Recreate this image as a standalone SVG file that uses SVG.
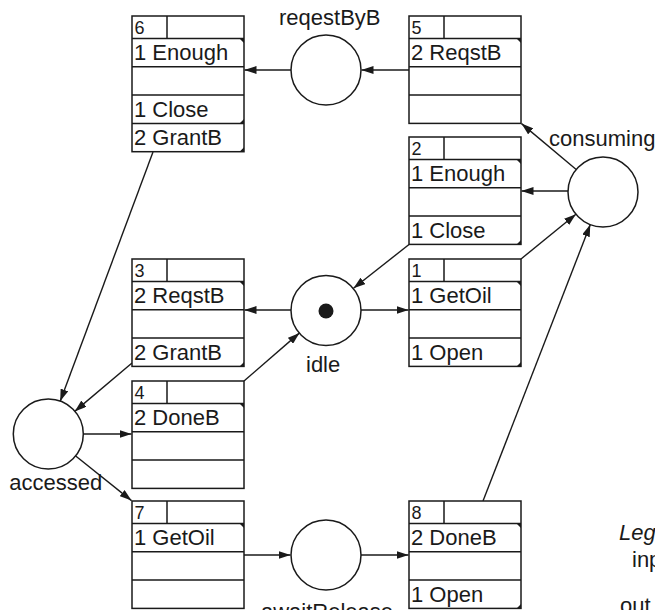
<svg xmlns="http://www.w3.org/2000/svg" width="655" height="610" viewBox="0 0 655 610">
<defs>
<style>
.bx{fill:#fff;stroke:#1a1a1a;stroke-width:1.5}
.ln{fill:none;stroke:#1a1a1a;stroke-width:1.5}
.pl{fill:#fff;stroke:#1a1a1a;stroke-width:1.5}
.c{stroke:#1a1a1a;stroke-width:1.4;fill:none}
.t{font-family:"Liberation Sans",Arial,sans-serif;font-size:22px;fill:#1a1a1a}
.h{font-family:"Liberation Sans",Arial,sans-serif;font-size:18px;fill:#1a1a1a}
.i{font-style:italic}
.tri{fill:#1a1a1a}
</style>
<marker id="ah" markerWidth="12" markerHeight="8" refX="12" refY="4" orient="auto" markerUnits="userSpaceOnUse">
<path d="M0,0 L12,4 L0,8 Z" fill="#1a1a1a"/>
</marker>
</defs>
<rect width="655" height="610" fill="#fff"/>

<g id="connectors">
<line class="c" x1="291" y1="70" x2="244.5" y2="70" marker-end="url(#ah)"/>
<line class="c" x1="409" y1="70" x2="361.5" y2="70" marker-end="url(#ah)"/>
<line class="c" x1="576.2" y1="169.5" x2="521.5" y2="123.6" marker-end="url(#ah)"/>
<line class="c" x1="568" y1="191" x2="521.5" y2="191" marker-end="url(#ah)"/>
<line class="c" x1="521" y1="259" x2="575.9" y2="214.2" marker-end="url(#ah)"/>
<line class="c" x1="483" y1="501" x2="590.3" y2="224.6" marker-end="url(#ah)"/>
<line class="c" x1="409" y1="244.5" x2="353.5" y2="288.3" marker-end="url(#ah)"/>
<line class="c" x1="361" y1="310" x2="408.5" y2="310" marker-end="url(#ah)"/>
<line class="c" x1="291" y1="310" x2="244.5" y2="310" marker-end="url(#ah)"/>
<line class="c" x1="244" y1="381" x2="299.5" y2="332.9" marker-end="url(#ah)"/>
<line class="c" x1="153" y1="152" x2="60.2" y2="401.2" marker-end="url(#ah)"/>
<line class="c" x1="132" y1="363" x2="74.7" y2="411.4" marker-end="url(#ah)"/>
<line class="c" x1="83" y1="434" x2="131.5" y2="434" marker-end="url(#ah)"/>
<line class="c" x1="75.4" y1="455.8" x2="131.5" y2="500.6" marker-end="url(#ah)"/>
<line class="c" x1="244" y1="555" x2="290.5" y2="555" marker-end="url(#ah)"/>
<line class="c" x1="361" y1="555" x2="408.5" y2="555" marker-end="url(#ah)"/>
</g>

<g id="place-reqestByB">
<circle class="pl" cx="326" cy="70" r="35"/>
<text class="t" x="279" y="25">reqestByB</text>
</g>
<g id="place-consuming">
<circle class="pl" cx="603" cy="192" r="35"/>
<text class="t" x="549" y="146">consuming</text>
</g>
<g id="place-idle">
<circle class="pl" cx="326" cy="310.5" r="35"/>
<circle cx="326" cy="311" r="7.5" fill="#1a1a1a"/>
<text class="t" x="306" y="372">idle</text>
</g>
<g id="place-accessed">
<circle class="pl" cx="48.3" cy="434" r="35"/>
<text class="t" x="9.3" y="490">accessed</text>
</g>
<g id="place-awaitRelease">
<circle class="pl" cx="326" cy="555" r="35"/>
<text class="t" x="261" y="619">awaitRelease</text>
</g>

<g id="box6">
<rect class="bx" x="132" y="16" width="112" height="135.7"/>
<path class="ln" d="M132,38.5H244M167,16V38.5M132,66.8H244M132,95.1H244M132,123.4H244"/>
<path class="tri" d="M239.5,38.5H244V43Z M244,118.9V123.4H239.5Z M244,147.2V151.7H239.5Z"/>
<text class="h" x="134.5" y="33.5">6</text>
<text class="t" x="134" y="60">1 Enough</text>
<text class="t" x="134" y="116.6">1 Close</text>
<text class="t" x="134" y="144.9">2 GrantB</text>
</g>

<g id="box5">
<rect class="bx" x="409" y="16" width="112" height="107.4"/>
<path class="ln" d="M409,38.5H521M444,16V38.5M409,66.8H521M409,95.1H521"/>
<path class="tri" d="M516.5,38.5H521V43Z"/>
<text class="h" x="411.5" y="33.5">5</text>
<text class="t" x="411" y="60">2 ReqstB</text>
</g>

<g id="box2">
<rect class="bx" x="409" y="137" width="112" height="107.4"/>
<path class="ln" d="M409,159.5H521M444,137V159.5M409,187.8H521M409,216.1H521"/>
<path class="tri" d="M516.5,159.5H521V164Z M521,239.9V244.4H516.5Z"/>
<text class="h" x="411.5" y="154.5">2</text>
<text class="t" x="411" y="181">1 Enough</text>
<text class="t" x="411" y="237.6">1 Close</text>
</g>

<g id="box1">
<rect class="bx" x="409" y="259" width="112" height="107.4"/>
<path class="ln" d="M409,281.5H521M444,259V281.5M409,309.8H521M409,338.1H521"/>
<path class="tri" d="M516.5,281.5H521V286Z M521,361.9V366.4H516.5Z"/>
<text class="h" x="411.5" y="276.5">1</text>
<text class="t" x="411" y="303">1 GetOil</text>
<text class="t" x="411" y="359.6">1 Open</text>
</g>

<g id="box3">
<rect class="bx" x="132" y="259" width="112" height="107.4"/>
<path class="ln" d="M132,281.5H244M167,259V281.5M132,309.8H244M132,338.1H244"/>
<path class="tri" d="M239.5,281.5H244V286Z M244,361.9V366.4H239.5Z"/>
<text class="h" x="134.5" y="276.5">3</text>
<text class="t" x="134" y="303">2 ReqstB</text>
<text class="t" x="134" y="359.6">2 GrantB</text>
</g>

<g id="box4">
<rect class="bx" x="132" y="381" width="112" height="107.4"/>
<path class="ln" d="M132,403.5H244M167,381V403.5M132,431.8H244M132,460.1H244"/>
<path class="tri" d="M239.5,403.5H244V408Z"/>
<text class="h" x="134.5" y="398.5">4</text>
<text class="t" x="134" y="425">2 DoneB</text>
</g>

<g id="box7">
<rect class="bx" x="132" y="501" width="112" height="107.4"/>
<path class="ln" d="M132,523.5H244M167,501V523.5M132,551.8H244M132,580.1H244"/>
<path class="tri" d="M239.5,523.5H244V528Z"/>
<text class="h" x="134.5" y="518.5">7</text>
<text class="t" x="134" y="545">1 GetOil</text>
</g>

<g id="box8">
<rect class="bx" x="409" y="501" width="112" height="107.4"/>
<path class="ln" d="M409,523.5H521M444,501V523.5M409,551.8H521M409,580.1H521"/>
<path class="tri" d="M516.5,523.5H521V528Z M521,603.9V608.4H516.5Z"/>
<text class="h" x="411.5" y="518.5">8</text>
<text class="t" x="411" y="545">2 DoneB</text>
<text class="t" x="411" y="601.6">1 Open</text>
</g>

<g id="legend">
<text class="t i" x="619" y="540">Leg</text>
<text class="t" x="632" y="567">inp</text>
<text class="t" x="620" y="613">out</text>
</g>
</svg>
